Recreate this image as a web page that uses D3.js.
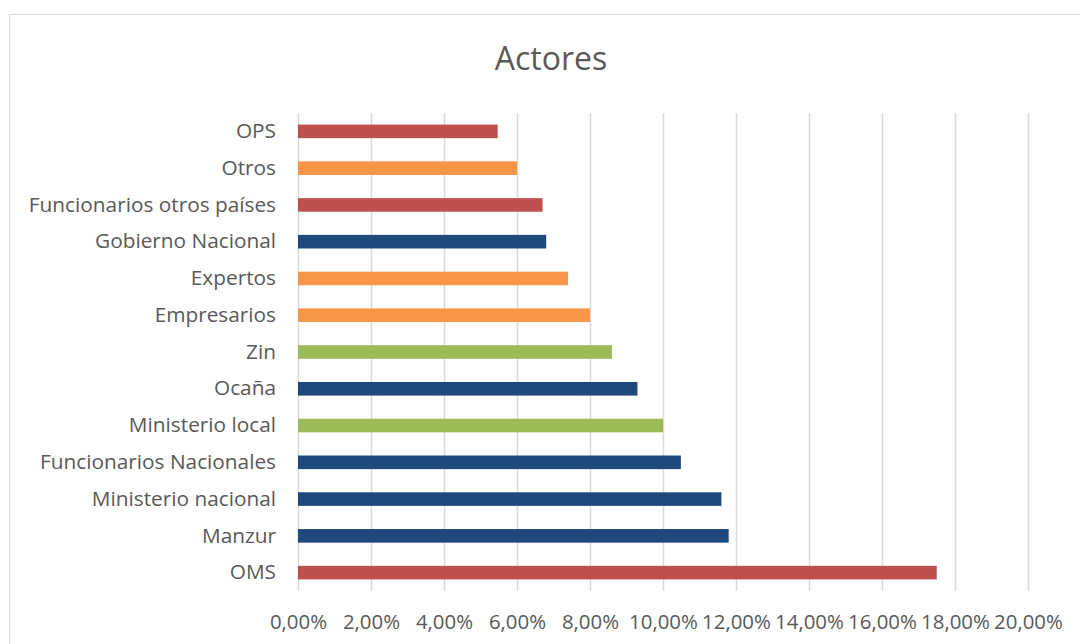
<!DOCTYPE html>
<html>
<head>
<meta charset="utf-8">
<script src="https://cdn.jsdelivr.net/npm/d3@7"></script>
<style>
  html, body { margin: 0; padding: 0; background: #fff; }
  svg text { font-family: "Open Sans", sans-serif; fill: #595959; }
</style>
</head>
<body>
<svg id="chart" width="1080" height="644"></svg>
<script>
// categories from top to bottom, as in the picture
var categories = ["OPS", "Otros", "Funcionarios otros países", "Gobierno Nacional", "Expertos",
    "Empresarios", "Zin", "Ocaña", "Ministerio local", "Funcionarios Nacionales",
    "Ministerio nacional", "Manzur", "OMS"];
var values = [0.0547, 0.0600, 0.0670, 0.0680, 0.0740, 0.0800, 0.0860, 0.0930, 0.1000, 0.1049,
    0.1160, 0.1180, 0.1750];
var groups = ["red", "orange", "red", "blue", "orange", "orange", "green", "blue", "green", "blue",
    "blue", "blue", "red"];
var tickValues = [0, 0.02, 0.04, 0.06, 0.08, 0.10, 0.12, 0.14, 0.16, 0.18, 0.20];

var colors = {red: "#C0504D", orange: "#F79646", blue: "#1F497D", green: "#9BBB59"};

var svg = d3.select("#chart");

// chart frame
svg.append("rect")
    .attr("x", 9.5).attr("y", 14.5)
    .attr("width", 1084).attr("height", 640)
    .attr("fill", "#fff").attr("stroke", "#D9D9D9").attr("stroke-width", 1);

svg.append("text")
    .attr("x", 551).attr("y", 70)
    .attr("text-anchor", "middle")
    .style("font-size", "32px")
    .text("Actores");

var x = d3.scaleLinear().domain([0, 0.2]).range([298, 1028]);
var y = d3.scaleBand().domain(categories).range([113, 591]).paddingInner(0.63).paddingOuter(0.315);

// gridlines
svg.append("g").selectAll("line").data(tickValues).enter().append("line")
    .attr("x1", function (d) { return Math.round(x(d)) + 0.5; })
    .attr("x2", function (d) { return Math.round(x(d)) + 0.5; })
    .attr("y1", 113).attr("y2", 591)
    .attr("stroke", "#D9D9D9").attr("stroke-width", 1.5);

// bars
svg.append("g").selectAll("rect").data(categories).enter().append("rect")
    .attr("x", x(0))
    .attr("y", function (d) { return y(d); })
    .attr("width", function (d, i) { return x(values[i]) - x(0); })
    .attr("height", y.bandwidth())
    .attr("fill", function (d, i) { return colors[groups[i]]; });

// category axis
var yAxis = svg.append("g")
    .attr("transform", "translate(" + x(0) + ",0)")
    .call(d3.axisLeft(y).tickSize(0).tickPadding(22));
yAxis.select(".domain").remove();
yAxis.selectAll("text").style("font-size", "20.8px").attr("fill", "#595959");

// value axis
var fmt = function (d) { return d3.format(".2f")(d * 100).replace(".", ",") + "%"; };
var xAxis = svg.append("g")
    .attr("transform", "translate(0,591)")
    .call(d3.axisBottom(x).tickValues(tickValues).tickFormat(fmt).tickSize(0).tickPadding(24));
xAxis.select(".domain").remove();
xAxis.selectAll("text").style("font-size", "20.4px").attr("fill", "#595959");
</script>
</body>
</html>
